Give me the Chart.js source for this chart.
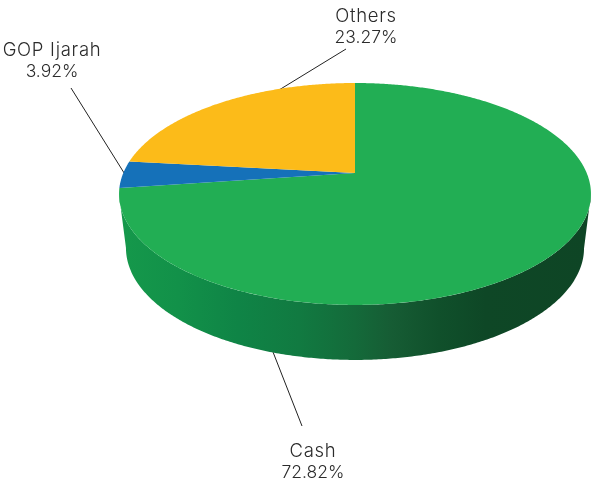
<!DOCTYPE html>
<html>
<head>
<meta charset="utf-8">
<style>html,body{margin:0;padding:0;background:#fff}canvas{display:block}</style>
<script src="https://cdn.jsdelivr.net/npm/chart.js@4"></script>
</head>
<body>
<canvas id="c" width="591" height="484"></canvas>
<script>
const categories = ['Cash', 'GOP Ijarah', 'Others'];
const shares = [72.82, 3.92, 23.27];
const sliceColors = ['#22AE54', '#1571B9', '#FCBB19'];

// Perspective of the disc: unit circle (X,Y) -> page
const K = -0.189;
const topFace = {cx: 355, A: 231.7, a: 74.3, b: 173};
const baseFace = {cx: 355, A: 224.9, a: 65.1, b: 226.8};
const project = (f, X, Y) => {
  const d = 1 + K * Y;
  return [f.cx + f.A * X / d, (f.b + f.a * Y) / d];
};
const sideStops = [
  [0, '#15984b'], [0.12, '#129149'], [0.25, '#0f8446'], [0.38, '#117a41'],
  [0.5, '#146a3a'], [0.58, '#165c34'], [0.68, '#10502b'], [0.78, '#0e4726'], [1, '#0e4525']
];
const labelAnchors = [[313, 450], [52, 49], [366, 15]];
const leaders = [[[273, 352], [302, 426]], [[71, 88], [126, 176]], [[346, 49], [279, 90]]];
const TEXT = '#2b2b2b';

const disc3d = {
  id: 'disc3d',
  beforeDatasetDraw(chart) {
    const ctx = chart.ctx;
    ctx.save();
    // leader lines, under the disc
    ctx.strokeStyle = '#222';
    ctx.lineWidth = 1;
    leaders.forEach(l => {
      ctx.beginPath();
      ctx.moveTo(l[0][0], l[0][1]);
      ctx.lineTo(l[1][0], l[1][1]);
      ctx.stroke();
    });
    // side wall
    const start = Math.asin(-K);
    const g = ctx.createLinearGradient(122, 0, 588, 0);
    sideStops.forEach(s => g.addColorStop(s[0], s[1]));
    ctx.fillStyle = g;
    ctx.beginPath();
    for (let t = start; t <= Math.PI - start + 1e-6; t += Math.PI / 360) {
      const p = project(topFace, Math.cos(t), Math.sin(t));
      ctx.lineTo(p[0], p[1]);
    }
    for (let t = Math.PI - start; t >= start - 1e-6; t -= Math.PI / 360) {
      const p = project(baseFace, Math.cos(t), Math.sin(t));
      ctx.lineTo(p[0], p[1]);
    }
    ctx.closePath();
    ctx.fill();
    // slices from the library's arc elements, seen in perspective
    chart.getDatasetMeta(0).data.forEach((arc, i) => {
      const s = arc.startAngle, e = arc.endAngle;
      const n = Math.max(2, Math.ceil((e - s) / (Math.PI / 360)));
      ctx.beginPath();
      const o = project(topFace, 0, 0);
      ctx.moveTo(o[0], o[1]);
      for (let j = 0; j <= n; j++) {
        const t = s + (e - s) * j / n;
        const p = project(topFace, Math.cos(t), Math.sin(t));
        ctx.lineTo(p[0], p[1]);
      }
      ctx.closePath();
      ctx.fillStyle = sliceColors[i];
      ctx.fill();
    });
    ctx.restore();
    return false;
  },
  afterDraw(chart) {
    const ctx = chart.ctx;
    ctx.save();
    ctx.fillStyle = TEXT;
    ctx.textAlign = 'center';
    ctx.textBaseline = 'middle';
    categories.forEach((c, i) => {
      const a = labelAnchors[i];
      ctx.font = '300 18.5px Inter';
      ctx.letterSpacing = '0.7px';
      ctx.fillText(c, a[0], a[1] + 1);
      ctx.font = '300 17.5px Inter';
      ctx.letterSpacing = '0px';
      ctx.fillText(shares[i].toFixed(2) + '%', a[0], a[1] + 23);
    });
    ctx.restore();
  }
};

new Chart(document.getElementById('c'), {
  type: 'pie',
  data: {
    labels: categories,
    datasets: [{data: shares, backgroundColor: sliceColors, borderWidth: 0}]
  },
  options: {
    responsive: false,
    animation: false,
    layout: {padding: {left: 119}},
    plugins: {legend: {display: false}, tooltip: {enabled: false}}
  },
  plugins: [disc3d]
});
</script>
</body>
</html>
